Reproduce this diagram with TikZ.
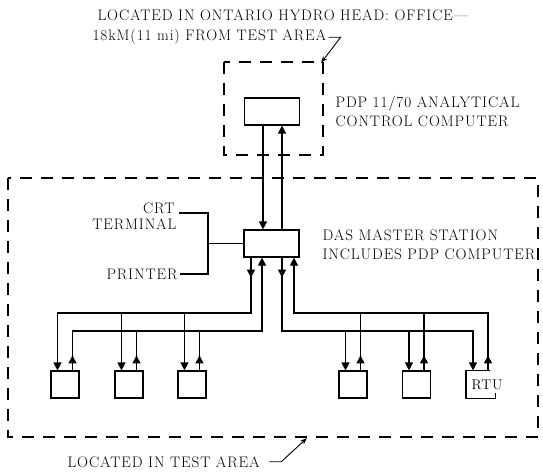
\documentclass[tikz,border=0pt]{standalone}
\usepackage{fontspec}
\newfontfamily\lblfont[LetterSpace=6]{Latin Modern Roman}
\usetikzlibrary{arrows.meta,calc}
\begin{document}
\begin{tikzpicture}[x=1pt,y=-1pt,
  line width=1.15pt,
  box/.style={draw, minimum width=55pt, minimum height=27pt, inner sep=0pt},
  rtubox/.style={draw, minimum width=28pt, minimum height=27pt, inner sep=0pt},
  lbl/.style={inner sep=0pt, font=\lblfont\fontsize{15.2}{18}\selectfont},
  arr/.style={-{Triangle[length=8pt,width=8pt]}},
  zone/.style={dash pattern=on 12pt off 9pt},
  lead/.style={-{Stealth[length=7pt,width=5pt]}, line width=0.9pt}
]
\useasboundingbox (0,0) rectangle (543,473);

% zones
\draw[zone] (224,62) rectangle (323,155);
\draw[zone] (8,178) rectangle (538,437);
\coordinate (tzc) at (321,63);
\coordinate (bzc) at (307,438);

% boxes
\node[box] (pdp) at (272,111.5) {};
\node[box] (das) at (271.5,243.5) {};
\node[rtubox] (rtu1) at (65,384.5) {};
\node[rtubox] (rtu2) at (129,384.5) {};
\node[rtubox] (rtu3) at (192,384.5) {};
\node[rtubox] (rtu4) at (353,384.5) {};
\node[rtubox] (rtu5) at (416.5,384.5) {};
\node[rtubox, draw=none] (rtu6) at (480.5,384.5) {};
\draw ([xshift=-5pt]rtu6.north east) -- (rtu6.north west) -- (rtu6.south west)
      -- (rtu6.south east) -- ++(0,-6);
\node[inner sep=0pt, font=\lblfont\fontsize{14}{16}\selectfont, anchor=west] (rtul) at ([xshift=5pt]rtu6.west) {RTU};

% labels
\node[lbl, anchor=base west] (top1) at (97,21) {LOCATED IN ONTARIO HYDRO HEAD: OFFICE—};
\node[lbl, anchor=base west] (top2) at (92,41) {18kM(11 mi) FROM TEST AREA};
\node[lbl, anchor=base west] (pdpl1) at (335,108) {PDP 11/70 ANALYTICAL};
\node[lbl, anchor=base west] (pdpl2) at (335,127) {CONTROL COMPUTER};
\node[lbl, anchor=base west] (dasl1) at (322,240) {DAS MASTER STATION};
\node[lbl, anchor=base west] (dasl2) at (322,259) {INCLUDES PDP COMPUTER};
\node[lbl, anchor=base east] (crt) at (175,213) {CRT};
\node[lbl, anchor=base east] (term) at (177,229) {TERMINAL};
\node[lbl, anchor=base east] (prn) at (178,279) {PRINTER};
\node[lbl, anchor=base west] (bot) at (67,467) {LOCATED IN TEST AREA};

% leaders
\draw[lead] ([xshift=2pt]top2.east) -- ++(12,0) -- (tzc);
\draw[lead] ([xshift=9pt]bot.east) -- ++(12,0) -- (bzc);

% CRT / printer
\coordinate (jn) at (208,243.5);
\draw ([xshift=4pt]crt.base east) -| (jn) |- ([xshift=2pt]prn.east);
\draw (das.west) -- (jn);

% PDP - DAS
\coordinate (t1) at ([xshift=-8.5pt]das.north);
\coordinate (t2) at ([xshift=10.5pt]das.north);
\draw[arr] (t1 |- pdp.south) -- (t1);
\draw[arr] (t2) -- (t2 |- pdp.south);

% DAS bottom lines
\coordinate (d1) at ([xshift=-20.5pt]das.south);
\coordinate (d2) at ([xshift=-9.5pt]das.south);
\coordinate (d3) at ([xshift=10.5pt]das.south);
\coordinate (d4) at ([xshift=22.5pt]das.south);
\coordinate (busA) at (0,313);
\coordinate (busB) at (0,331);
\foreach \i in {1,...,6}{
  \coordinate (ra\i) at ([xshift=-7.5pt]rtu\i.north);
  \coordinate (rb\i) at ([xshift=7.5pt]rtu\i.north);
}

% left group
\draw[arr] (d1) |- (ra1 |- busA) -- (ra1);
\draw[arr] (ra2 |- busA) -- (ra2);
\draw[arr] (ra3 |- busA) -- (ra3);
\draw[arr] (rb1) -- (rb1 |- busB) -| (d2);
\draw (rb2) -- (rb2 |- busB);
\draw (rb3) -- (rb3 |- busB);

% right group
\draw[arr] (d3) |- (ra6 |- busB) -- (ra6);
\draw[arr] (ra4 |- busB) -- (ra4);
\draw[arr] (ra5 |- busB) -- (ra5);
\draw[arr] (rb6) -- (rb6 |- busA) -| (d4);
\draw (rb4) -- (rb4 |- busA);
\draw (rb5) -- (rb5 |- busA);

% extra arrowheads
\foreach \i in {1,...,6}{ \draw[arr] (rb\i) -- ++(0,-15); }
\draw[arr] (d1) -- ++(0,20);
\draw[arr] (d3) -- ++(0,20);
\end{tikzpicture}
\end{document}
